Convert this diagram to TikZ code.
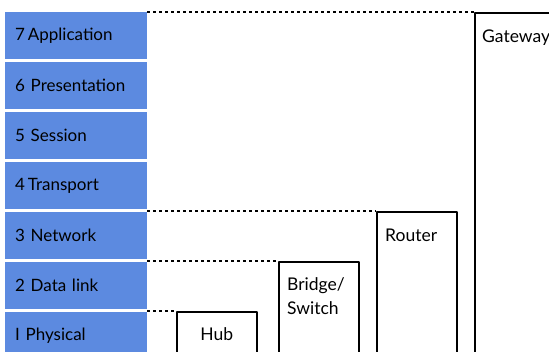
\documentclass[tikz,border=0pt]{standalone}
\usepackage{fontspec}
\setmainfont{Lato}
\usetikzlibrary{positioning}
\definecolor{layerblue}{RGB}{92,138,224}
\begin{document}
\begin{tikzpicture}[x=1pt, y=-1pt, line join=round,
  layer/.style={fill=layerblue, draw=none, anchor=north west, minimum width=142pt, minimum height=47pt,
    text width=122pt, inner xsep=10pt, align=left, font=\fontsize{17}{19}\selectfont},
  device/.style={draw=black, line width=1.5pt, anchor=north west, minimum width=80pt, inner sep=0pt},
  devlabel/.style={anchor=north west, align=left, inner sep=0pt, font=\fontsize{17.5}{24}\selectfont},
  levelline/.style={dashed, dash pattern=on 3pt off 3pt, line width=1.5pt}]
  \useasboundingbox (0,0) rectangle (549,351);
  \clip (0,0) rectangle (549,351);

  % 1. Cac tang OSI
  \node[layer] (l7) at (5,12)  {7\,Application};
  \node[layer] (l6) at (5,62)  {6 Presentation};
  \node[layer] (l5) at (5,112) {5 Session};
  \node[layer] (l4) at (5,162) {4\,Transport};
  \node[layer] (l3) at (5,212) {3 Network};
  \node[layer] (l2) at (5,262) {2 Data link};
  \node[layer] (l1) at (5,312) {I Physical};

  % 2. Cac thiet bi
  \node[device, minimum height=80pt]  (hub)     at (176,311) {};
  \node[device, minimum height=130pt] (bridge)  at (278,261) {};
  \node[device, minimum height=180pt] (router)  at (376,211) {};
  \node[device, minimum width=120pt, minimum height=380pt] (gateway) at (474,12) {};

  \node[anchor=north, inner sep=0pt, font=\fontsize{17.5}{19}\selectfont] (hubtext) at ([yshift=-16pt]hub.north) {Hub};
  \node[devlabel, below right=16pt and 9pt of bridge.north west] (bridgetext) {Bridge/\\Switch};
  \node[devlabel, below right=18pt and 9pt of router.north west] (routertext) {Router};
  \node[devlabel, below right=18pt and 8pt of gateway.north west] (gatewaytext) {Gateway};

  % 3. Duong ranh gioi tang
  \draw[levelline] (l7.north east) -- (gateway.north west);
  \draw[levelline] ([yshift=1pt]l3.north east) -- (router.north west);
  \draw[levelline] ([yshift=1pt]l2.north east) -- (bridge.north west);
  \draw[levelline] ([yshift=1pt]l1.north east) -- (hub.north west);
\end{tikzpicture}
\end{document}
